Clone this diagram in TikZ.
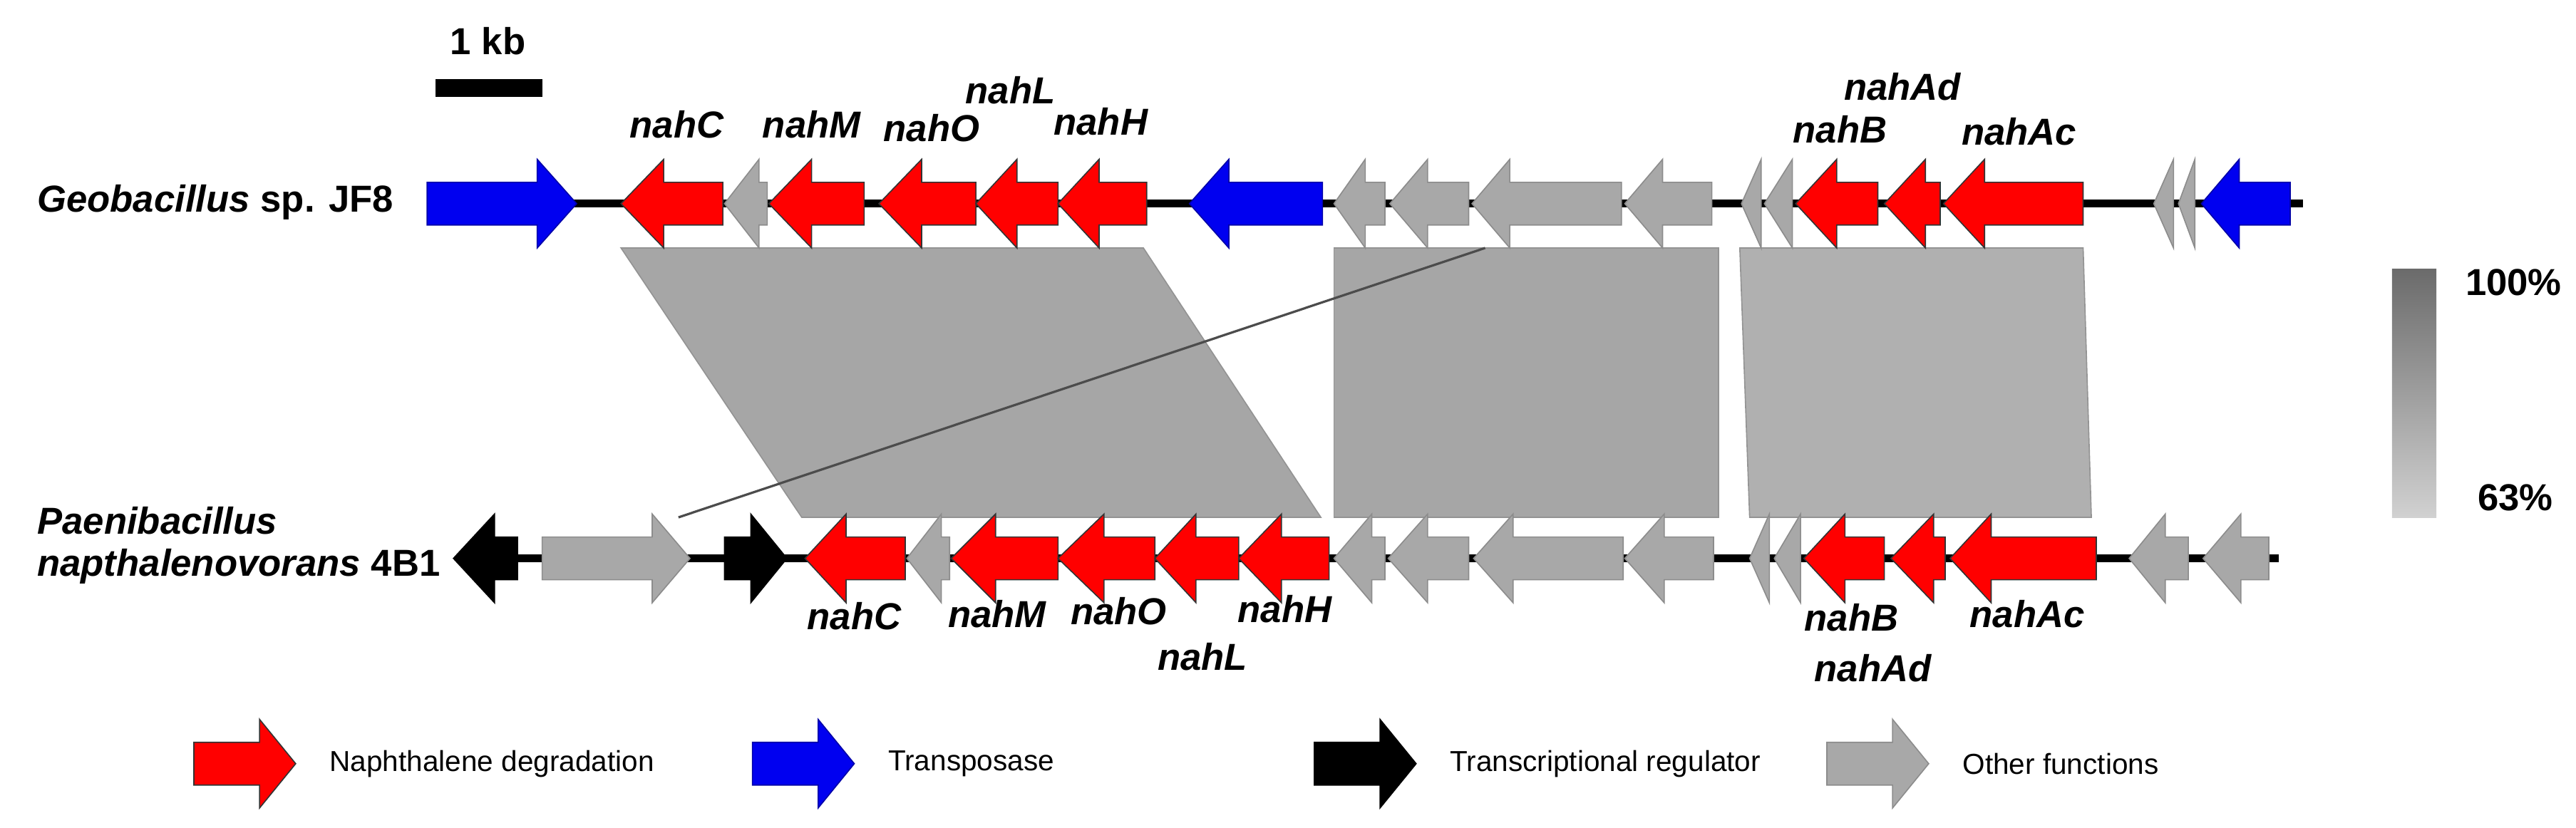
\documentclass[tikz,border=0pt]{standalone}
\usepackage{fontspec}
\setmainfont{Liberation Sans}
\usetikzlibrary{positioning}

\definecolor{napred}{RGB}{255,0,0}
\definecolor{tnpblue}{RGB}{0,0,240}
\definecolor{othgray}{RGB}{168,168,168}

% gene arrow: #1 style, #2 start, #3 end, #4 head base, #5 track y, #6 f/r
\newcommand{\genearrow}[6]{%
  \if#6f
    \draw[#1] (#2,#5-13) -- (#4,#5-13) -- (#4,#5-27) -- (#3,#5) -- (#4,#5+27) -- (#4,#5+13) -- (#2,#5+13) -- cycle;
  \else
    \draw[#1] (#3,#5-13) -- (#4,#5-13) -- (#4,#5-27) -- (#2,#5) -- (#4,#5+27) -- (#4,#5+13) -- (#3,#5+13) -- cycle;
  \fi}

\tikzset{
  nah/.style={fill=napred, draw=black!80, line width=0.2pt},
  tnp/.style={fill=tnpblue, draw=tnpblue!70!black, line width=0.2pt},
  reg/.style={fill=black, draw=black, line width=0.2pt},
  oth/.style={fill=othgray, draw=gray!90, line width=0.2pt},
  track/.style={line width=1.4pt},
  org/.style={font=\fontsize{6.5}{7.5}\selectfont\bfseries, anchor=west, inner sep=0pt},
  genelabel/.style={font=\fontsize{6.5}{7.5}\selectfont\bfseries\itshape, inner sep=0pt},
  numlabel/.style={font=\fontsize{6.5}{7.5}\selectfont\bfseries, inner sep=0pt},
  leg/.style={font=\fontsize{5}{6}\selectfont, anchor=west, inner sep=0pt},
  block/.style={draw=gray!85, line width=0.2pt}
}

\begin{document}
\begin{tikzpicture}[x=0.01cm, y=-0.01cm]
    \useasboundingbox (0,0) rectangle (1568,504);

    % scale bar
    \fill (265,48) rectangle (330,59);
    \node[numlabel] (kb) at (297,25) {1 kb};

    % similarity blocks
    \filldraw[block, fill=gray!70] (378,151) -- (696,151) -- (804,315) -- (488,315) -- cycle;
    \filldraw[block, fill=gray!70] (812,151) -- (1046,151) -- (1046,315) -- (812,315) -- cycle;
    \filldraw[block, fill=gray!62] (1059,151) -- (1268,151) -- (1273,315) -- (1065,315) -- cycle;
    \coordinate (crossA) at (904,151);
    \coordinate (crossB) at (413,315);
    \draw[black!70, line width=0.4pt] (crossA) -- (crossB);

    % Geobacillus track
    \node[org] (geo) at (22,123) {\textit{Geobacillus} sp. JF8};
    \coordinate (geoS) at (260,124);
    \coordinate (geoE) at (1402,124);
    \draw[track] (geoS) -- (geoE);
    \genearrow{tnp}{260}{351}{327}{124}{f}
    \foreach \a/\b/\c in {378/440/404, 468/526/494, 535/594/561, 594/644/619, 644/698/669, 1093/1143/1118, 1147/1181/1172, 1183/1268/1208}
      {\genearrow{nah}{\a}{\b}{\c}{124}{r}}
    \foreach \a/\b/\c in {441/467/462, 812/843/831, 846/894/869, 896/987/919, 989/1042/1012, 1060/1072/1072, 1074/1091/1091, 1311/1323/1323, 1326/1336/1336}
      {\genearrow{oth}{\a}{\b}{\c}{124}{r}}
    \genearrow{tnp}{724}{805}{748}{124}{r}
    \genearrow{tnp}{1340}{1394}{1363}{124}{r}

    % Paenibacillus track
    \node[org] (pae) at (22,317) {\textit{Paenibacillus}};
    \node[org] (pae2) at (22,345) {\textit{napthalenovorans} 4B1};
    \coordinate (paeS) at (280,340);
    \coordinate (paeE) at (1387,340);
    \draw[track] (paeS) -- (paeE);
    \genearrow{reg}{276}{315}{301}{340}{r}
    \genearrow{oth}{330}{420}{397}{340}{f}
    \genearrow{reg}{441}{479}{457}{340}{f}
    \foreach \a/\b/\c in {490/551/515, 579/644/606, 644/703/672, 703/754/728, 754/809/780, 1098/1147/1123, 1151/1184/1177, 1187/1276/1212}
      {\genearrow{nah}{\a}{\b}{\c}{340}{r}}
    \foreach \a/\b/\c in {552/578/573, 812/843/835, 845/894/869, 897/988/921, 989/1043/1013, 1065/1077/1077, 1080/1096/1096, 1296/1332/1318, 1341/1381/1364}
      {\genearrow{oth}{\a}{\b}{\c}{340}{r}}

    % gene names
    \foreach \n/\x/\y in {nahC/412/76, nahM/494/76, nahO/567/78, nahL/615/55, nahH/670/74, nahAd/1158/53, nahB/1120/79, nahAc/1229/80, nahC/520/375, nahM/607/374, nahO/681/372, nahL/732/400, nahH/782/371, nahB/1127/376, nahAd/1140/407, nahAc/1234/374}
      {\node[genelabel] at (\x,\y) {\n};}

    % identity scale
    \shade[top color=black!58, bottom color=black!18] (1456,164) rectangle (1483,315);
    \node[numlabel] (hi) at (1530,172) {100\%};
    \node[numlabel] (lo) at (1531,303) {63\%};

    % legend
    \foreach \x/\s/\t in {118/nah/Naphthalene degradation, 458/tnp/Transposase, 800/reg/Transcriptional regulator, 1112/oth/Other functions} {
      \genearrow{\s}{\x}{\x+62}{\x+40}{465}{f}
      \node[leg] at (\x+82,465) {\t};
    }
\end{tikzpicture}
\end{document}
